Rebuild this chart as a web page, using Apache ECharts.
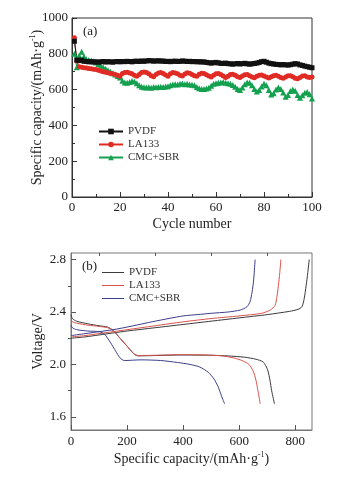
<!DOCTYPE html>
<html><head><meta charset="utf-8">
<script src="https://cdn.jsdelivr.net/npm/echarts@6/dist/echarts.min.js"></script>
<style>html,body{margin:0;padding:0;background:#fff}#c{width:356px;height:477px}</style>
</head><body><div id="c"></div>
<script>
// Panel (a): cycle performance
const cycles = Array.from({length:100},(_,i)=>i+1);
const pvdfCap = [870,765,762,765,758,757,755,756,754,755, 753,755,757,754,756,755,753,756,757,755,
 757,756,758,757,755,758,759,757,760,758, 760,762,761,759,760,761,759,760,757,758,
 756,758,759,757,758,760,759,757,758,756, 757,755,756,754,755,752,750,748,750,752,
 749,747,746,748,745,744,742,744,746,743, 745,747,744,742,744,746,748,752,756,758,
 753,748,745,743,741,740,738,740,738,737, 739,742,745,743,738,735,731,728,725,722];
const la133Cap = [890,760,728,725,722,720,718,716,714,712, 708,704,700,697,694,690,688,685,680,674,
 690,695,697,693,688,680, 675,685,695,698,695,688, 678,672,685,693,695,690,
 682,675,688,695,693,688, 680,676,687,694,692,685, 678,675,686,692,690,683,
 676,670,680,688,690,684, 676,668,675,684,686,680, 672,668,676,683,684,678,
 670,666,674,680,682,676, 670,665,672,678,680,674, 668,663,670,677,678,672,
 664,660,668,676,677,671, 667,670];
const cmcCap = [800,725,790,812,785,770,765,762,758,752, 742,733,725,716,708,700,692,684,676,668,
 650,640,638,642,648,645,636,624,616,613, 612,613,611,614,613,615,616,614,617,619,
 624,628,630,628,632,634,630,632,629,627, 624,615,608,604,603,606,610,622,632,636,
 638,640,642,638,636,632,626,616,604,598, 612,630,640,638,624,604,590,598,618,632,
 624,598,572,580,600,612,604,584,560,570, 592,600,594,570,555,568,582,586,574,550];

// Panel (b): charge/discharge profiles [capacity, voltage]
const pvdfCharge = [[0,2.20],[50,2.21],[100,2.225],[150,2.24],[200,2.255],[300,2.28],[400,2.305],[500,2.33],[600,2.355],[700,2.38],[780,2.405],[810,2.42],[824,2.44],[832,2.5],[839,2.6],[845,2.7],[850,2.8]];
const la133Charge = [[0,2.21],[50,2.22],[100,2.235],[150,2.25],[200,2.265],[300,2.295],[400,2.325],[500,2.35],[600,2.37],[680,2.39],[711,2.415],[728,2.45],[735,2.52],[740,2.6],[745,2.7],[749,2.8]];
const cmcCharge = [[0,2.22],[50,2.235],[100,2.25],[150,2.265],[200,2.285],[300,2.33],[400,2.37],[450,2.38],[500,2.39],[560,2.40],[604,2.415],[628,2.44],[639,2.48],[646,2.55],[652,2.65],[657,2.8]];
const pvdfDischarge = [[0,2.38],[5,2.35],[20,2.33],[60,2.31],[100,2.295],[130,2.285],[150,2.26],[175,2.2],[200,2.14],[225,2.08],[240,2.065],[300,2.068],[400,2.072],[500,2.07],[560,2.065],[620,2.055],[660,2.04],[685,2.02],[695,1.99],[703,1.95],[710,1.88],[716,1.8],[722,1.74],[726,1.70]];
const la133Discharge = [[0,2.34],[5,2.325],[20,2.315],[60,2.30],[100,2.29],[130,2.28],[150,2.26],[175,2.2],[200,2.14],[225,2.08],[240,2.068],[300,2.07],[400,2.075],[480,2.072],[540,2.065],[580,2.05],[610,2.03],[635,2.0],[650,1.95],[660,1.88],[667,1.8],[672,1.74],[675,1.70]];
const cmcDischarge = [[0,2.30],[5,2.28],[20,2.265],[60,2.255],[100,2.25],[120,2.23],[140,2.17],[160,2.1],[175,2.05],[190,2.03],[250,2.035],[320,2.03],[380,2.015],[425,2.0],[460,1.98],[490,1.94],[510,1.89],[525,1.83],[537,1.76],[548,1.70]];

const bXLabels = [0,200,400,600,800];
const bXMinor = [100,300,500,700];
const bYLabels = [1.6,2.0,2.4,2.8];
const bYMinor = [1.8,2.2,2.6];

const FONT = 'Liberation Serif';
const C_PVDF = '#111111', C_LA = '#e02b25', C_CMC = '#13a04f';
const B_PVDF = '#3a3a3a', B_LA = '#d9534a', B_CMC = '#3d3f8c';

const chart = echarts.init(document.getElementById('c'), null, {renderer:'canvas'});
const tickLabel = {fontFamily:FONT, fontSize:13, color:'#222'};
const nameStyle = {fontFamily:FONT, fontSize:14, color:'#222', rich:{sup:{fontFamily:FONT, fontSize:8, color:'#222', verticalAlign:'top', padding:[0,0,8,0]}}};

function aSeries(name, data, color, symbol){
  return {type:'line', name, xAxisIndex:0, yAxisIndex:0, data: cycles.map((c,i)=>[c,data[i]]),
    symbol, symbolSize: symbol==='triangle'?6:5, showSymbol:true, color,
    lineStyle:{width:1,color}, itemStyle:{color}, animation:false, z:3};
}
function bSeries(name, data, color){
  return {type:'line', name, xAxisIndex:2, yAxisIndex:2, data, symbol:'none', smooth:0.25,
    color, lineStyle:{width:1,color}, itemStyle:{color}, animation:false};
}

chart.setOption({
  backgroundColor:'#ffffff',
  animation:false,
  title:[
    {text:'(a)', left:78, top:20, textStyle:{fontFamily:FONT, fontSize:13, fontWeight:'normal', color:'#222'}},
    {text:'(b)', left:77, top:255, textStyle:{fontFamily:FONT, fontSize:13, fontWeight:'normal', color:'#222'}}
  ],
  grid:[
    {left:72, top:18, width:240, height:179, show:true, borderColor:'#333', borderWidth:1},
    {left:71, top:253, width:241, height:177, show:true, borderColor:'#777', borderWidth:1}
  ],
  legend:[
    {data:['PVDF','LA133','CMC+SBR'], orient:'vertical', left:93, top:121, itemWidth:24, itemHeight:7, itemGap:2,
     textStyle:{fontFamily:FONT, fontSize:11, color:'#333'}},
    {data:['PVDF (b)','LA133 (b)','CMC+SBR (b)'], orient:'vertical', left:97, top:262, itemWidth:22, itemHeight:7, itemGap:2,
     icon:'path://M0,3.5L22,3.5L22,4.5L0,4.5Z',
     formatter: n=>n.replace(' (b)',''), textStyle:{fontFamily:FONT, fontSize:11, color:'#333'}}
  ],
  xAxis:[
    {type:'value', gridIndex:0, min:0, max:100, interval:20, name:'Cycle number', nameLocation:'middle', nameGap:20, nameMoveOverlap:false,
     nameTextStyle:nameStyle, axisLine:{show:true, onZero:false, lineStyle:{color:'#333'}},
     axisTick:{inside:true, length:5, lineStyle:{color:'#333'}}, minorTick:{show:true, splitNumber:2, length:3, lineStyle:{color:'#333'}},
     axisLabel:{...tickLabel, margin:4}, splitLine:{show:false}},
    {type:'value', gridIndex:0, position:'top', min:0, max:100, show:false},
    {type:'value', gridIndex:1, min:0, max:860, name:'Specific capacity/(mAh·g{sup|-1})', nameLocation:'middle', nameGap:21, nameMoveOverlap:false,
     nameTextStyle:nameStyle, axisLine:{show:true, onZero:false, lineStyle:{color:'#777'}},
     axisTick:{inside:true, length:5, customValues:bXLabels, lineStyle:{color:'#555'}},
     axisLabel:{...tickLabel, margin:5, customValues:bXLabels}, splitLine:{show:false}},
    {type:'value', gridIndex:1, min:0, max:860, axisLine:{show:false},
     axisTick:{show:true, inside:true, length:3, customValues:bXMinor, lineStyle:{color:'#555'}},
     axisLabel:{show:false}, splitLine:{show:false}}
  ],
  yAxis:[
    {type:'value', gridIndex:0, min:0, max:1000, interval:200, name:'Specific capacity/(mAh·g{sup|-1})', nameLocation:'middle', nameGap:27, nameMoveOverlap:false,
     nameTextStyle:nameStyle, axisLine:{show:true, onZero:false, lineStyle:{color:'#333'}},
     axisTick:{inside:true, length:5, lineStyle:{color:'#333'}}, minorTick:{show:true, splitNumber:2, length:3, lineStyle:{color:'#333'}},
     axisLabel:{...tickLabel, margin:4, formatter:v=>String(v)}, splitLine:{show:false}},
    {type:'value', gridIndex:0, position:'right', min:0, max:1000, show:false},
    {type:'value', gridIndex:1, min:1.5, max:2.85, name:'Voltage/V', nameLocation:'middle', nameGap:26, nameMoveOverlap:false,
     nameTextStyle:nameStyle, axisLine:{show:true, onZero:false, lineStyle:{color:'#777'}},
     axisTick:{inside:true, length:5, customValues:bYLabels, lineStyle:{color:'#555'}},
     axisLabel:{...tickLabel, margin:5, customValues:bYLabels, formatter:v=>v.toFixed(1)}, splitLine:{show:false}},
    {type:'value', gridIndex:1, min:1.5, max:2.85, axisLine:{show:false},
     axisTick:{show:true, inside:true, length:3, customValues:bYMinor, lineStyle:{color:'#555'}},
     axisLabel:{show:false}, splitLine:{show:false}}
  ],
  series:[
    aSeries('CMC+SBR', cmcCap, C_CMC, 'triangle'),
    aSeries('LA133', la133Cap, C_LA, 'circle'),
    aSeries('PVDF', pvdfCap, C_PVDF, 'rect'),
    bSeries('PVDF (b)', pvdfCharge, B_PVDF),
    bSeries('PVDF (b)', pvdfDischarge, B_PVDF),
    bSeries('LA133 (b)', la133Charge, B_LA),
    bSeries('LA133 (b)', la133Discharge, B_LA),
    bSeries('CMC+SBR (b)', cmcCharge, B_CMC),
    bSeries('CMC+SBR (b)', cmcDischarge, B_CMC)
  ]
});
</script></body></html>
